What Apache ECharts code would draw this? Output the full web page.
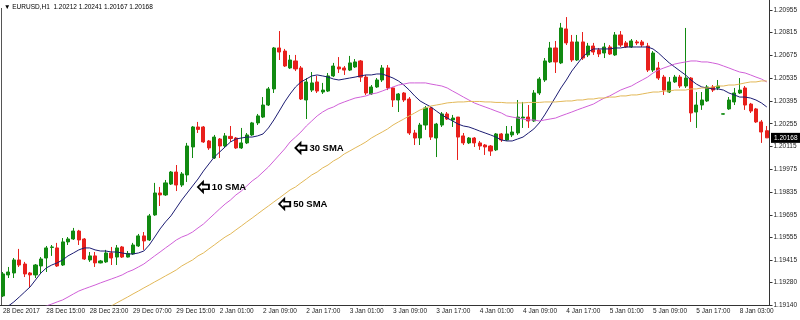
<!DOCTYPE html>
<html>
<head>
<meta charset="utf-8">
<script src="https://cdn.jsdelivr.net/npm/echarts@6/dist/echarts.min.js"></script>
<style>
html, body { margin: 0; padding: 0; background: #fff; }
#chart { width: 800px; height: 320px; }
</style>
</head>
<body>
<div id="chart"></div>
<script>
const symbolTitle = '▼ EURUSD,H1  1.20212 1.20241 1.20167 1.20168'
const lastPrice = 1.20168

const timeLabels = [
  '28 Dec 2017', '28 Dec 15:00', '28 Dec 23:00', '29 Dec 07:00', '29 Dec 15:00',
  '2 Jan 01:00', '2 Jan 09:00', '2 Jan 17:00', '3 Jan 01:00', '3 Jan 09:00',
  '3 Jan 17:00', '4 Jan 01:00', '4 Jan 09:00', '4 Jan 17:00', '5 Jan 01:00',
  '5 Jan 09:00', '5 Jan 17:00', '8 Jan 03:00'
]
const priceTicks = [
  1.19140, 1.19280, 1.19415, 1.19555, 1.19695, 1.19835, 1.19975,
  1.20115, 1.20255, 1.20395, 1.20535, 1.20675, 1.20815, 1.20955
]

// H1 bars: [open, close, low, high]
const candles = [
  [1.19196, 1.19331, 1.19189, 1.19343], [1.19325, 1.19343, 1.19306, 1.19374], [1.19337, 1.19417, 1.19306, 1.19429],
  [1.19417, 1.19386, 1.19374, 1.19485], [1.19392, 1.19331, 1.19312, 1.19405], [1.19337, 1.19325, 1.19251, 1.19343],
  [1.19325, 1.19386, 1.19306, 1.19392], [1.19380, 1.19423, 1.19337, 1.19435], [1.19429, 1.19491, 1.19343, 1.19503],
  [1.19494, 1.19497, 1.19442, 1.19509], [1.19491, 1.19380, 1.19374, 1.19522], [1.19386, 1.19528, 1.19380, 1.19552],
  [1.19528, 1.19546, 1.19509, 1.19558], [1.19546, 1.19595, 1.19540, 1.19614], [1.19595, 1.19540, 1.19509, 1.19602],
  [1.19546, 1.19423, 1.19417, 1.19552], [1.19417, 1.19442, 1.19405, 1.19466], [1.19442, 1.19399, 1.19374, 1.19466],
  [1.19399, 1.19411, 1.19396, 1.19417], [1.19405, 1.19460, 1.19399, 1.19479], [1.19460, 1.19429, 1.19386, 1.19497],
  [1.19435, 1.19491, 1.19386, 1.19509], [1.19497, 1.19435, 1.19429, 1.19503], [1.19435, 1.19457, 1.19432, 1.19472],
  [1.19454, 1.19509, 1.19448, 1.19522], [1.19503, 1.19565, 1.19497, 1.19577], [1.19565, 1.19534, 1.19479, 1.19589],
  [1.19540, 1.19688, 1.19534, 1.19700], [1.19694, 1.19829, 1.19688, 1.19891], [1.19829, 1.19817, 1.19749, 1.19866],
  [1.19817, 1.19891, 1.19811, 1.19909], [1.19884, 1.19958, 1.19878, 1.19964], [1.19958, 1.19878, 1.19841, 1.20001],
  [1.19878, 1.19946, 1.19866, 1.19958], [1.19940, 1.20118, 1.19897, 1.20137], [1.20112, 1.20235, 1.20044, 1.20241],
  [1.20235, 1.20220, 1.20198, 1.20266], [1.20235, 1.20143, 1.20137, 1.20241], [1.20149, 1.20106, 1.20094, 1.20155],
  [1.20044, 1.20173, 1.20038, 1.20186], [1.20161, 1.20118, 1.20044, 1.20167], [1.20118, 1.20180, 1.20112, 1.20198],
  [1.20177, 1.20164, 1.20143, 1.20241], [1.20167, 1.20106, 1.20100, 1.20173], [1.20106, 1.20137, 1.20100, 1.20229],
  [1.20137, 1.20186, 1.20130, 1.20198], [1.20186, 1.20260, 1.20180, 1.20266], [1.20260, 1.20303, 1.20247, 1.20315],
  [1.20296, 1.20370, 1.20290, 1.20419], [1.20370, 1.20469, 1.20364, 1.20481], [1.20469, 1.20721, 1.20444, 1.20727],
  [1.20721, 1.20696, 1.20647, 1.20825], [1.20702, 1.20610, 1.20604, 1.20715], [1.20598, 1.20647, 1.20592, 1.20678],
  [1.20641, 1.20592, 1.20579, 1.20678], [1.20598, 1.20407, 1.20401, 1.20610], [1.20401, 1.20512, 1.20284, 1.20536],
  [1.20462, 1.20506, 1.20450, 1.20573], [1.20512, 1.20456, 1.20444, 1.20549], [1.20450, 1.20462, 1.20438, 1.20506],
  [1.20456, 1.20549, 1.20450, 1.20567], [1.20549, 1.20610, 1.20542, 1.20629], [1.20604, 1.20592, 1.20567, 1.20665],
  [1.20598, 1.20585, 1.20555, 1.20610], [1.20585, 1.20629, 1.20579, 1.20672], [1.20604, 1.20635, 1.20598, 1.20653],
  [1.20641, 1.20542, 1.20512, 1.20647], [1.20542, 1.20444, 1.20432, 1.20555], [1.20438, 1.20481, 1.20432, 1.20493],
  [1.20481, 1.20524, 1.20475, 1.20536], [1.20524, 1.20598, 1.20512, 1.20616], [1.20598, 1.20475, 1.20462, 1.20616],
  [1.20475, 1.20401, 1.20358, 1.20481], [1.20401, 1.20438, 1.20327, 1.20444], [1.20444, 1.20401, 1.20389, 1.20450],
  [1.20407, 1.20198, 1.20186, 1.20419], [1.20198, 1.20167, 1.20124, 1.20217], [1.20167, 1.20247, 1.20124, 1.20260],
  [1.20247, 1.20352, 1.20217, 1.20364], [1.20352, 1.20173, 1.20155, 1.20358], [1.20167, 1.20253, 1.20050, 1.20260],
  [1.20247, 1.20315, 1.20235, 1.20327], [1.20315, 1.20284, 1.20278, 1.20327], [1.20278, 1.20290, 1.20235, 1.20309],
  [1.20296, 1.20173, 1.20032, 1.20296], [1.20180, 1.20137, 1.20124, 1.20198], [1.20137, 1.20167, 1.20130, 1.20173],
  [1.20167, 1.20137, 1.20112, 1.20173], [1.20137, 1.20118, 1.20094, 1.20149], [1.20124, 1.20112, 1.20063, 1.20130],
  [1.20118, 1.20087, 1.20057, 1.20124], [1.20094, 1.20192, 1.20087, 1.20198], [1.20192, 1.20155, 1.20143, 1.20198],
  [1.20155, 1.20192, 1.20149, 1.20241], [1.20186, 1.20204, 1.20173, 1.20241], [1.20198, 1.20296, 1.20186, 1.20401],
  [1.20290, 1.20296, 1.20229, 1.20389], [1.20296, 1.20272, 1.20229, 1.20370], [1.20272, 1.20444, 1.20266, 1.20462],
  [1.20444, 1.20530, 1.20432, 1.20542], [1.20524, 1.20641, 1.20512, 1.20659], [1.20635, 1.20721, 1.20629, 1.20758],
  [1.20721, 1.20635, 1.20567, 1.20764], [1.20629, 1.20844, 1.20622, 1.20875], [1.20838, 1.20752, 1.20739, 1.20911],
  [1.20758, 1.20647, 1.20635, 1.20801], [1.20647, 1.20758, 1.20641, 1.20801], [1.20758, 1.20659, 1.20647, 1.20819],
  [1.20678, 1.20733, 1.20665, 1.20752], [1.20733, 1.20696, 1.20678, 1.20752], [1.20709, 1.20684, 1.20665, 1.20721],
  [1.20690, 1.20727, 1.20659, 1.20752], [1.20727, 1.20684, 1.20678, 1.20739], [1.20678, 1.20801, 1.20672, 1.20819],
  [1.20801, 1.20739, 1.20727, 1.20825], [1.20752, 1.20727, 1.20721, 1.20764], [1.20727, 1.20764, 1.20721, 1.20776],
  [1.20758, 1.20752, 1.20739, 1.20770], [1.20758, 1.20739, 1.20727, 1.20770], [1.20733, 1.20585, 1.20573, 1.20752],
  [1.20585, 1.20690, 1.20573, 1.20702], [1.20598, 1.20536, 1.20524, 1.20635], [1.20542, 1.20462, 1.20432, 1.20555],
  [1.20450, 1.20512, 1.20444, 1.20542], [1.20512, 1.20542, 1.20506, 1.20555], [1.20542, 1.20487, 1.20475, 1.20555],
  [1.20487, 1.20536, 1.20475, 1.20844], [1.20536, 1.20321, 1.20266, 1.20542], [1.20327, 1.20370, 1.20229, 1.20450],
  [1.20370, 1.20401, 1.20340, 1.20450], [1.20395, 1.20481, 1.20389, 1.20493], [1.20481, 1.20462, 1.20450, 1.20493],
  [1.20475, 1.20487, 1.20462, 1.20524], [1.20314, 1.20316, 1.20312, 1.20318], [1.20346, 1.20401, 1.20340, 1.20419],
  [1.20389, 1.20444, 1.20370, 1.20475], [1.20444, 1.20462, 1.20438, 1.20536], [1.20475, 1.20370, 1.20340, 1.20487],
  [1.20376, 1.20333, 1.20321, 1.20383], [1.20346, 1.20266, 1.20260, 1.20352], [1.20266, 1.20204, 1.20137, 1.20278],
  [1.20212, 1.20168, 1.20167, 1.20241]
]

const sma10 = [
  1.19103, 1.19134, 1.19159, 1.19189, 1.19220, 1.19251, 1.19294, 1.19337, 1.19368, 1.19386,
  1.19399, 1.19417, 1.19442, 1.19460, 1.19479, 1.19491, 1.19491, 1.19479, 1.19472, 1.19472,
  1.19466, 1.19466, 1.19460, 1.19454, 1.19454, 1.19460, 1.19472, 1.19509, 1.19558, 1.19608,
  1.19651, 1.19688, 1.19737, 1.19786, 1.19829, 1.19872, 1.19915, 1.19964, 1.20007, 1.20050,
  1.20081, 1.20112, 1.20143, 1.20161, 1.20167, 1.20173, 1.20173, 1.20180, 1.20192, 1.20229,
  1.20278, 1.20333, 1.20389, 1.20438, 1.20481, 1.20512, 1.20530, 1.20549, 1.20555, 1.20549,
  1.20542, 1.20530, 1.20524, 1.20530, 1.20536, 1.20542, 1.20549, 1.20555, 1.20555, 1.20561,
  1.20561, 1.20549, 1.20536, 1.20518, 1.20493, 1.20462, 1.20426, 1.20395, 1.20376, 1.20358,
  1.20333, 1.20309, 1.20290, 1.20272, 1.20253, 1.20241, 1.20235, 1.20223, 1.20210, 1.20198,
  1.20186, 1.20173, 1.20155, 1.20149, 1.20149, 1.20161, 1.20173, 1.20198, 1.20223, 1.20260,
  1.20309, 1.20364, 1.20419, 1.20475, 1.20524, 1.20579, 1.20622, 1.20665, 1.20696, 1.20715,
  1.20715, 1.20715, 1.20715, 1.20721, 1.20721, 1.20727, 1.20727, 1.20727, 1.20727, 1.20727,
  1.20715, 1.20690, 1.20659, 1.20629, 1.20604, 1.20579, 1.20555, 1.20524, 1.20499, 1.20481,
  1.20475, 1.20469, 1.20469, 1.20462, 1.20444, 1.20432, 1.20419, 1.20419, 1.20413, 1.20401,
  1.20383, 1.20358
]

const sma30 = [
  null, null, null, null, null, 1.19097, 1.19110, 1.19122, 1.19134, 1.19146,
  1.19159, 1.19171, 1.19189, 1.19208, 1.19226, 1.19239, 1.19251, 1.19263, 1.19276, 1.19288,
  1.19300, 1.19312, 1.19325, 1.19343, 1.19356, 1.19374, 1.19392, 1.19417, 1.19442, 1.19466,
  1.19491, 1.19515, 1.19540, 1.19558, 1.19571, 1.19589, 1.19614, 1.19638, 1.19669, 1.19700,
  1.19731, 1.19761, 1.19786, 1.19817, 1.19841, 1.19872, 1.19903, 1.19927, 1.19958, 1.19989,
  1.20026, 1.20063, 1.20100, 1.20143, 1.20173, 1.20204, 1.20241, 1.20272, 1.20303, 1.20327,
  1.20346, 1.20358, 1.20376, 1.20389, 1.20401, 1.20413, 1.20419, 1.20426, 1.20438, 1.20444,
  1.20456, 1.20469, 1.20481, 1.20493, 1.20499, 1.20506, 1.20506, 1.20506, 1.20506, 1.20499,
  1.20493, 1.20487, 1.20475, 1.20456, 1.20438, 1.20419, 1.20401, 1.20383, 1.20370, 1.20358,
  1.20346, 1.20333, 1.20321, 1.20303, 1.20296, 1.20290, 1.20284, 1.20278, 1.20278, 1.20272,
  1.20278, 1.20284, 1.20290, 1.20303, 1.20315, 1.20327, 1.20340, 1.20352, 1.20364, 1.20376,
  1.20395, 1.20413, 1.20426, 1.20444, 1.20462, 1.20475, 1.20487, 1.20506, 1.20524, 1.20542,
  1.20567, 1.20585, 1.20598, 1.20610, 1.20622, 1.20629, 1.20635, 1.20641, 1.20641, 1.20635,
  1.20635, 1.20629, 1.20622, 1.20610, 1.20598, 1.20585, 1.20573, 1.20567, 1.20555, 1.20542,
  1.20530, 1.20512
]

const sma50 = [
  null, null, null, null, null, null, null, null, null, null,
  null, null, null, null, null, null, null, 1.19079, 1.19097, 1.19116,
  1.19134, 1.19153, 1.19171, 1.19189, 1.19208, 1.19226, 1.19245, 1.19263, 1.19282, 1.19300,
  1.19319, 1.19337, 1.19356, 1.19380, 1.19399, 1.19417, 1.19442, 1.19460, 1.19485, 1.19509,
  1.19534, 1.19558, 1.19577, 1.19602, 1.19626, 1.19651, 1.19675, 1.19700, 1.19725, 1.19749,
  1.19774, 1.19798, 1.19823, 1.19848, 1.19866, 1.19891, 1.19915, 1.19940, 1.19958, 1.19983,
  1.20001, 1.20026, 1.20044, 1.20069, 1.20087, 1.20106, 1.20124, 1.20143, 1.20167, 1.20186,
  1.20204, 1.20223, 1.20247, 1.20266, 1.20284, 1.20303, 1.20321, 1.20340, 1.20352, 1.20364,
  1.20370, 1.20376, 1.20383, 1.20386, 1.20389, 1.20389, 1.20392, 1.20392, 1.20392, 1.20389,
  1.20389, 1.20386, 1.20386, 1.20383, 1.20383, 1.20383, 1.20383, 1.20386, 1.20386, 1.20386,
  1.20389, 1.20389, 1.20389, 1.20392, 1.20395, 1.20395, 1.20401, 1.20401, 1.20407, 1.20407,
  1.20413, 1.20413, 1.20419, 1.20419, 1.20426, 1.20426, 1.20432, 1.20432, 1.20438, 1.20444,
  1.20450, 1.20450, 1.20456, 1.20456, 1.20462, 1.20462, 1.20462, 1.20469, 1.20469, 1.20475,
  1.20475, 1.20481, 1.20487, 1.20487, 1.20493, 1.20493, 1.20499, 1.20506, 1.20512, 1.20512,
  1.20518, 1.20518
]

const chart = echarts.init(document.getElementById('chart'))

const every8 = (i) => i % 8 === 0
const cats = candles.map((c, i) => (every8(i) ? timeLabels[i / 8] : ''))
const font = 'Liberation Sans'
// hollow left arrow like the MT4 arrow object
const arrowPath = 'path://M0,5.5L5.5,0L5.5,3L12,3L12,8L5.5,8L5.5,11Z'

const smaNote = (text, coord) => ({
  silent: true,
  symbol: arrowPath,
  symbolSize: [11, 10],
  itemStyle: { color: '#fff', borderColor: '#000', borderWidth: 1.8 },
  data: [{ coord: coord }],
  label: {
    show: true,
    position: 'right',
    distance: 2,
    formatter: text,
    fontSize: 9.5,
    fontWeight: 'bold',
    color: '#000',
    fontFamily: font
  }
})

const option = {
  animation: false,
  backgroundColor: '#fff',
  title: {
    text: symbolTitle,
    left: 4,
    top: 4,
    padding: 0,
    textStyle: { fontSize: 6.5, fontWeight: 'normal', color: '#000', fontFamily: font }
  },
  grid: { left: 0, right: 30, top: 0, bottom: 15 },
  xAxis: {
    type: 'category',
    data: cats,
    boundaryGap: true,
    axisLine: { lineStyle: { color: '#333', width: 1 } },
    axisTick: { interval: every8, alignWithLabel: true, length: 3, lineStyle: { color: '#333' } },
    axisLabel: {
      interval: every8,
      align: 'left',
      fontSize: 6.5,
      margin: 3,
      color: '#222',
      fontFamily: font
    },
    splitLine: { show: false }
  },
  yAxis: {
    type: 'value',
    position: 'right',
    min: 1.1914,
    max: 1.21016,
    splitLine: { show: false },
    axisLine: { show: true, lineStyle: { color: '#333', width: 1 } },
    axisTick: { show: true, length: 3, customValues: priceTicks, lineStyle: { color: '#333' } },
    axisLabel: {
      customValues: priceTicks,
      formatter: (v) => v.toFixed(5),
      fontSize: 6.5,
      margin: 4,
      color: '#222',
      fontFamily: font
    }
  },
  series: [
    {
      name: 'EURUSD',
      type: 'candlestick',
      data: candles,
      barWidth: '66%',
      itemStyle: {
        color: '#118a11',
        color0: '#e8201c',
        borderColor: '#118a11',
        borderColor0: '#e8201c',
        borderWidth: 1
      }
    },
    {
      name: '10 SMA',
      type: 'line',
      data: sma10,
      showSymbol: false,
      lineStyle: { color: '#1c1c72', width: 1 },
      markPoint: smaNote('10 SMA', [37, 1.19866])
    },
    {
      name: '30 SMA',
      type: 'line',
      data: sma30,
      showSymbol: false,
      lineStyle: { color: '#d060d8', width: 1 },
      markPoint: smaNote('30 SMA', [55, 1.20106])
    },
    {
      name: '50 SMA',
      type: 'line',
      data: sma50,
      showSymbol: false,
      lineStyle: { color: '#e2b858', width: 1 },
      markPoint: smaNote('50 SMA', [52, 1.19761])
    }
  ]
}

chart.setOption(option)

// left frame line and the last-price tag on the price scale
const priceY = chart.convertToPixel({ yAxisIndex: 0 }, lastPrice)
chart.setOption({
  graphic: [
    {
      type: 'line',
      silent: true,
      shape: { x1: 1.5, y1: 8, x2: 1.5, y2: 305 },
      style: { stroke: '#555', lineWidth: 1 }
    },
    {
      type: 'text',
      silent: true,
      z: 100,
      x: 771,
      y: priceY,
      style: {
        text: lastPrice.toFixed(5),
        fill: '#fff',
        backgroundColor: '#000',
        padding: [2, 3, 1, 3],
        font: '6.5px "Liberation Sans"',
        verticalAlign: 'middle',
        align: 'left'
      }
    }
  ]
})

window.addEventListener('resize', function () {
  chart.resize()
})
</script>
</body>
</html>
